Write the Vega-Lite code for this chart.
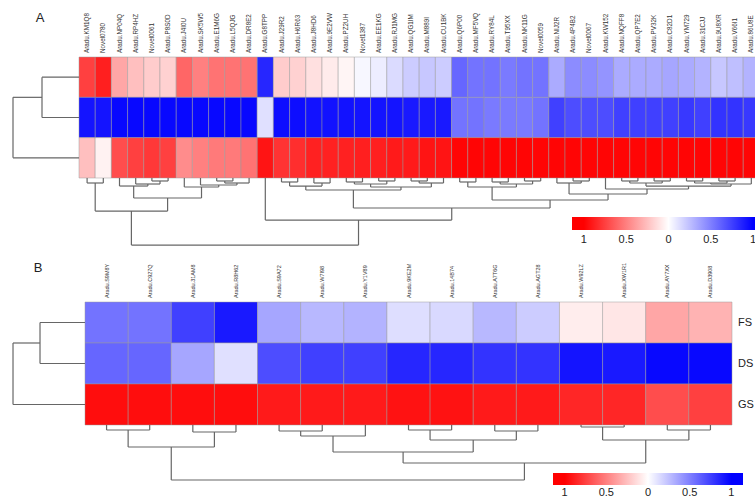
{
"$schema": "https://vega.github.io/schema/vega-lite/v6.json",
"padding": 0,
"background": "white",
"spacing": 0,
"bounds": "flush",
"config": {"view": {"stroke": null}, "font": "Liberation Sans", "axis": {"disable": true}},
"resolve": {"scale": {"color": "independent"}},
"datasets": {
"cellsA": [
{"gene":"Aradu.KM1Q8","cond":"FS","v":0.75},{"gene":"Aradu.KM1Q8","cond":"DS","v":-0.92},{"gene":"Aradu.KM1Q8","cond":"GS","v":0.25},
{"gene":"Novel0780","cond":"FS","v":0.88},{"gene":"Novel0780","cond":"DS","v":-0.92},{"gene":"Novel0780","cond":"GS","v":0.05},
{"gene":"Aradu.NP04Q","cond":"FS","v":0.35},{"gene":"Aradu.NP04Q","cond":"DS","v":-0.97},{"gene":"Aradu.NP04Q","cond":"GS","v":0.7},
{"gene":"Aradu.RP4HZ","cond":"FS","v":0.25},{"gene":"Aradu.RP4HZ","cond":"DS","v":-0.97},{"gene":"Aradu.RP4HZ","cond":"GS","v":0.75},
{"gene":"Novel0061","cond":"FS","v":0.2},{"gene":"Novel0061","cond":"DS","v":-0.97},{"gene":"Novel0061","cond":"GS","v":0.78},
{"gene":"Aradu.P8S0D","cond":"FS","v":0.18},{"gene":"Aradu.P8S0D","cond":"DS","v":-0.97},{"gene":"Aradu.P8S0D","cond":"GS","v":0.75},
{"gene":"Aradu.J4I0U","cond":"FS","v":0.6},{"gene":"Aradu.J4I0U","cond":"DS","v":-0.97},{"gene":"Aradu.J4I0U","cond":"GS","v":0.45},
{"gene":"Aradu.SK5W5","cond":"FS","v":0.5},{"gene":"Aradu.SK5W5","cond":"DS","v":-0.97},{"gene":"Aradu.SK5W5","cond":"GS","v":0.5},
{"gene":"Aradu.E1M6G","cond":"FS","v":0.55},{"gene":"Aradu.E1M6G","cond":"DS","v":-0.97},{"gene":"Aradu.E1M6G","cond":"GS","v":0.52},
{"gene":"Aradu.L5QJG","cond":"FS","v":0.55},{"gene":"Aradu.L5QJG","cond":"DS","v":-0.97},{"gene":"Aradu.L5QJG","cond":"GS","v":0.52},
{"gene":"Aradu.DR8E2","cond":"FS","v":0.55},{"gene":"Aradu.DR8E2","cond":"DS","v":-0.97},{"gene":"Aradu.DR8E2","cond":"GS","v":0.55},
{"gene":"Aradu.G8TPP","cond":"FS","v":-0.85},{"gene":"Aradu.G8TPP","cond":"DS","v":-0.12},{"gene":"Aradu.G8TPP","cond":"GS","v":0.92},
{"gene":"Aradu.J29R2","cond":"FS","v":0.2},{"gene":"Aradu.J29R2","cond":"DS","v":-0.95},{"gene":"Aradu.J29R2","cond":"GS","v":0.8},
{"gene":"Aradu.H6R63","cond":"FS","v":0.18},{"gene":"Aradu.H6R63","cond":"DS","v":-0.95},{"gene":"Aradu.H6R63","cond":"GS","v":0.82},
{"gene":"Aradu.J8HD6","cond":"FS","v":0.12},{"gene":"Aradu.J8HD6","cond":"DS","v":-0.93},{"gene":"Aradu.J8HD6","cond":"GS","v":0.87},
{"gene":"Aradu.9E2VW","cond":"FS","v":0.08},{"gene":"Aradu.9E2VW","cond":"DS","v":-0.93},{"gene":"Aradu.9E2VW","cond":"GS","v":0.87},
{"gene":"Aradu.PZ2UH","cond":"FS","v":0.04},{"gene":"Aradu.PZ2UH","cond":"DS","v":-0.93},{"gene":"Aradu.PZ2UH","cond":"GS","v":0.87},
{"gene":"Novel1387","cond":"FS","v":-0.03},{"gene":"Novel1387","cond":"DS","v":-0.92},{"gene":"Novel1387","cond":"GS","v":0.88},
{"gene":"Aradu.EE1KG","cond":"FS","v":-0.07},{"gene":"Aradu.EE1KG","cond":"DS","v":-0.92},{"gene":"Aradu.EE1KG","cond":"GS","v":0.88},
{"gene":"Aradu.RJ1MG","cond":"FS","v":-0.14},{"gene":"Aradu.RJ1MG","cond":"DS","v":-0.92},{"gene":"Aradu.RJ1MG","cond":"GS","v":0.9},
{"gene":"Aradu.QG1IM","cond":"FS","v":-0.2},{"gene":"Aradu.QG1IM","cond":"DS","v":-0.9},{"gene":"Aradu.QG1IM","cond":"GS","v":0.9},
{"gene":"Aradu.M889I","cond":"FS","v":-0.22},{"gene":"Aradu.M889I","cond":"DS","v":-0.9},{"gene":"Aradu.M889I","cond":"GS","v":0.92},
{"gene":"Aradu.CU1BK","cond":"FS","v":-0.2},{"gene":"Aradu.CU1BK","cond":"DS","v":-0.9},{"gene":"Aradu.CU1BK","cond":"GS","v":0.92},
{"gene":"Aradu.Q6P00","cond":"FS","v":-0.6},{"gene":"Aradu.Q6P00","cond":"DS","v":-0.55},{"gene":"Aradu.Q6P00","cond":"GS","v":0.98},
{"gene":"Aradu.MF5VQ","cond":"FS","v":-0.55},{"gene":"Aradu.MF5VQ","cond":"DS","v":-0.55},{"gene":"Aradu.MF5VQ","cond":"GS","v":0.98},
{"gene":"Aradu.RY84L","cond":"FS","v":-0.55},{"gene":"Aradu.RY84L","cond":"DS","v":-0.52},{"gene":"Aradu.RY84L","cond":"GS","v":0.98},
{"gene":"Aradu.T95XX","cond":"FS","v":-0.52},{"gene":"Aradu.T95XX","cond":"DS","v":-0.52},{"gene":"Aradu.T95XX","cond":"GS","v":0.98},
{"gene":"Aradu.NK11G","cond":"FS","v":-0.55},{"gene":"Aradu.NK11G","cond":"DS","v":-0.52},{"gene":"Aradu.NK11G","cond":"GS","v":0.98},
{"gene":"Novel0059","cond":"FS","v":-0.55},{"gene":"Novel0059","cond":"DS","v":-0.55},{"gene":"Novel0059","cond":"GS","v":0.98},
{"gene":"Aradu.NIJ2R","cond":"FS","v":-0.33},{"gene":"Aradu.NIJ2R","cond":"DS","v":-0.75},{"gene":"Aradu.NIJ2R","cond":"GS","v":0.98},
{"gene":"Aradu.4P4B2","cond":"FS","v":-0.45},{"gene":"Aradu.4P4B2","cond":"DS","v":-0.7},{"gene":"Aradu.4P4B2","cond":"GS","v":0.98},
{"gene":"Novel0067","cond":"FS","v":-0.45},{"gene":"Novel0067","cond":"DS","v":-0.7},{"gene":"Novel0067","cond":"GS","v":0.98},
{"gene":"Aradu.KW152","cond":"FS","v":-0.42},{"gene":"Aradu.KW152","cond":"DS","v":-0.7},{"gene":"Aradu.KW152","cond":"GS","v":0.98},
{"gene":"Aradu.NQFF8","cond":"FS","v":-0.33},{"gene":"Aradu.NQFF8","cond":"DS","v":-0.75},{"gene":"Aradu.NQFF8","cond":"GS","v":0.98},
{"gene":"Aradu.QP7E2","cond":"FS","v":-0.33},{"gene":"Aradu.QP7E2","cond":"DS","v":-0.75},{"gene":"Aradu.QP7E2","cond":"GS","v":0.98},
{"gene":"Aradu.PV32K","cond":"FS","v":-0.33},{"gene":"Aradu.PV32K","cond":"DS","v":-0.75},{"gene":"Aradu.PV32K","cond":"GS","v":0.98},
{"gene":"Aradu.C82D1","cond":"FS","v":-0.35},{"gene":"Aradu.C82D1","cond":"DS","v":-0.75},{"gene":"Aradu.C82D1","cond":"GS","v":0.98},
{"gene":"Aradu.YM729","cond":"FS","v":-0.33},{"gene":"Aradu.YM729","cond":"DS","v":-0.78},{"gene":"Aradu.YM729","cond":"GS","v":0.98},
{"gene":"Aradu.31CJJ","cond":"FS","v":-0.3},{"gene":"Aradu.31CJJ","cond":"DS","v":-0.75},{"gene":"Aradu.31CJJ","cond":"GS","v":0.98},
{"gene":"Aradu.9U8XR","cond":"FS","v":-0.22},{"gene":"Aradu.9U8XR","cond":"DS","v":-0.8},{"gene":"Aradu.9U8XR","cond":"GS","v":0.98},
{"gene":"Aradu.V66I1","cond":"FS","v":-0.25},{"gene":"Aradu.V66I1","cond":"DS","v":-0.8},{"gene":"Aradu.V66I1","cond":"GS","v":0.98},
{"gene":"Aradu.86U8E","cond":"FS","v":-0.3},{"gene":"Aradu.86U8E","cond":"DS","v":-0.78},{"gene":"Aradu.86U8E","cond":"GS","v":0.98}
],
"mergesA": [
{"xa":0.5,"xb":1.5,"ha":3,"hb":3,"h":3.124},
{"xa":4.5,"xb":5.5,"ha":3,"hb":3,"h":3.074},
{"xa":3.5,"xb":5.0,"ha":3,"hb":3.074,"h":3.149},
{"xa":2.5,"xb":4.25,"ha":3,"hb":3.149,"h":3.199},
{"xa":8.5,"xb":9.5,"ha":3,"hb":3,"h":3.074},
{"xa":9.0,"xb":10.5,"ha":3.074,"hb":3,"h":3.124},
{"xa":7.5,"xb":9.75,"ha":3,"hb":3.124,"h":3.174},
{"xa":6.5,"xb":8.625,"ha":3,"hb":3.174,"h":3.223},
{"xa":3.375,"xb":7.5625,"ha":3.199,"hb":3.223,"h":3.496},
{"xa":1.0,"xb":5.469,"ha":3.124,"hb":3.496,"h":3.819},
{"xa":12.5,"xb":13.5,"ha":3,"hb":3,"h":3.099},
{"xa":14.5,"xb":15.5,"ha":3,"hb":3,"h":3.124},
{"xa":13,"xb":15,"ha":3.099,"hb":3.124,"h":3.199},
{"xa":16.5,"xb":17.5,"ha":3,"hb":3,"h":3.099},
{"xa":18.5,"xb":19.5,"ha":3,"hb":3,"h":3.074},
{"xa":17,"xb":19,"ha":3.099,"hb":3.074,"h":3.149},
{"xa":20.5,"xb":21.5,"ha":3,"hb":3,"h":3.074},
{"xa":21,"xb":22.5,"ha":3.074,"hb":3,"h":3.124},
{"xa":18,"xb":21.75,"ha":3.149,"hb":3.124,"h":3.223},
{"xa":14,"xb":19.875,"ha":3.199,"hb":3.223,"h":3.298},
{"xa":23.5,"xb":24.5,"ha":3,"hb":3,"h":3.099},
{"xa":25.5,"xb":26.5,"ha":3,"hb":3,"h":3.099},
{"xa":27.5,"xb":28.5,"ha":3,"hb":3,"h":3.074},
{"xa":26,"xb":28,"ha":3.099,"hb":3.074,"h":3.149},
{"xa":24,"xb":27,"ha":3.099,"hb":3.149,"h":3.223},
{"xa":30.5,"xb":31.5,"ha":3,"hb":3,"h":3.074},
{"xa":29.5,"xb":31,"ha":3,"hb":3.074,"h":3.124},
{"xa":33.5,"xb":34.5,"ha":3,"hb":3,"h":3.074},
{"xa":35.5,"xb":36.5,"ha":3,"hb":3,"h":3.074},
{"xa":34,"xb":36,"ha":3.074,"hb":3.074,"h":3.124},
{"xa":37.5,"xb":38.5,"ha":3,"hb":3,"h":3.074},
{"xa":39.5,"xb":40.5,"ha":3,"hb":3,"h":3.074},
{"xa":38,"xb":40,"ha":3.074,"hb":3.074,"h":3.124},
{"xa":39,"xb":41.5,"ha":3.124,"hb":3,"h":3.149},
{"xa":35,"xb":40.25,"ha":3.124,"hb":3.149,"h":3.199},
{"xa":32.5,"xb":37.625,"ha":3,"hb":3.199,"h":3.273},
{"xa":30.25,"xb":35.0625,"ha":3.124,"hb":3.273,"h":3.397},
{"xa":25.5,"xb":32.656,"ha":3.223,"hb":3.397,"h":3.546},
{"xa":16.9375,"xb":29.078,"ha":3.298,"hb":3.546,"h":3.744},
{"xa":11.5,"xb":23.008,"ha":3,"hb":3.744,"h":4.042},
{"xa":3.234,"xb":17.254,"ha":3.819,"hb":4.042,"h":4.663}
],
"rowsA": [
{"ya":0.5,"yb":1.5,"da":0,"db":0,"d":-2.284},
{"ya":1.0,"yb":2.5,"da":-2.284,"db":0,"d":-4.074}
],
"cellsB": [
{"gene":"Aradu.S9M8Y","cond":"FS","v":-0.55},{"gene":"Aradu.S9M8Y","cond":"DS","v":-0.6},{"gene":"Aradu.S9M8Y","cond":"GS","v":0.95},
{"gene":"Aradu.C927Q","cond":"FS","v":-0.55},{"gene":"Aradu.C927Q","cond":"DS","v":-0.6},{"gene":"Aradu.C927Q","cond":"GS","v":0.95},
{"gene":"Aradu.31AM8","cond":"FS","v":-0.75},{"gene":"Aradu.31AM8","cond":"DS","v":-0.35},{"gene":"Aradu.31AM8","cond":"GS","v":0.95},
{"gene":"Aradu.R8H62","cond":"FS","v":-0.9},{"gene":"Aradu.R8H62","cond":"DS","v":-0.12},{"gene":"Aradu.R8H62","cond":"GS","v":0.95},
{"gene":"Aradu.S9A72","cond":"FS","v":-0.35},{"gene":"Aradu.S9A72","cond":"DS","v":-0.7},{"gene":"Aradu.S9A72","cond":"GS","v":0.9},
{"gene":"Aradu.W7I98","cond":"FS","v":-0.28},{"gene":"Aradu.W7I98","cond":"DS","v":-0.75},{"gene":"Aradu.W7I98","cond":"GS","v":0.9},
{"gene":"Aradu.Y1V89","cond":"FS","v":-0.3},{"gene":"Aradu.Y1V89","cond":"DS","v":-0.75},{"gene":"Aradu.Y1V89","cond":"GS","v":0.9},
{"gene":"Aradu.9KE2M","cond":"FS","v":-0.13},{"gene":"Aradu.9KE2M","cond":"DS","v":-0.85},{"gene":"Aradu.9KE2M","cond":"GS","v":0.93},
{"gene":"Aradu.14B74","cond":"FS","v":-0.15},{"gene":"Aradu.14B74","cond":"DS","v":-0.85},{"gene":"Aradu.14B74","cond":"GS","v":0.93},
{"gene":"Aradu.A7T6G","cond":"FS","v":-0.28},{"gene":"Aradu.A7T6G","cond":"DS","v":-0.8},{"gene":"Aradu.A7T6G","cond":"GS","v":0.9},
{"gene":"Aradu.AGT28","cond":"FS","v":-0.2},{"gene":"Aradu.AGT28","cond":"DS","v":-0.8},{"gene":"Aradu.AGT28","cond":"GS","v":0.9},
{"gene":"Aradu.W92LZ","cond":"FS","v":0.07},{"gene":"Aradu.W92LZ","cond":"DS","v":-0.92},{"gene":"Aradu.W92LZ","cond":"GS","v":0.85},
{"gene":"Aradu.XW1R1","cond":"FS","v":0.1},{"gene":"Aradu.XW1R1","cond":"DS","v":-0.9},{"gene":"Aradu.XW1R1","cond":"GS","v":0.85},
{"gene":"Aradu.AY7XX","cond":"FS","v":0.35},{"gene":"Aradu.AY7XX","cond":"DS","v":-0.97},{"gene":"Aradu.AY7XX","cond":"GS","v":0.7},
{"gene":"Aradu.D3908","cond":"FS","v":0.3},{"gene":"Aradu.D3908","cond":"DS","v":-0.97},{"gene":"Aradu.D3908","cond":"GS","v":0.75}
],
"mergesB": [
{"xa":0.5,"xb":1.5,"ha":3,"hb":3,"h":3.122},
{"xa":2.5,"xb":3.5,"ha":3,"hb":3,"h":3.171},
{"xa":1.0,"xb":3.0,"ha":3.122,"hb":3.171,"h":3.537},
{"xa":4.5,"xb":5.5,"ha":3,"hb":3,"h":3.146},
{"xa":5.0,"xb":6.5,"ha":3.146,"hb":3,"h":3.268},
{"xa":7.5,"xb":8.5,"ha":3,"hb":3,"h":3.122},
{"xa":9.5,"xb":10.5,"ha":3,"hb":3,"h":3.146},
{"xa":8.0,"xb":10.0,"ha":3.122,"hb":3.146,"h":3.366},
{"xa":5.75,"xb":9.0,"ha":3.268,"hb":3.366,"h":3.659},
{"xa":11.5,"xb":12.5,"ha":3,"hb":3,"h":3.049},
{"xa":13.5,"xb":14.5,"ha":3,"hb":3,"h":3.122},
{"xa":12.0,"xb":14.0,"ha":3.049,"hb":3.122,"h":3.366},
{"xa":7.375,"xb":13.0,"ha":3.659,"hb":3.366,"h":3.927},
{"xa":2.0,"xb":10.1875,"ha":3.537,"hb":3.927,"h":4.341}
],
"rowsB": [
{"ya":0.5,"yb":1.5,"da":0,"db":0,"d":-1.043},
{"ya":1.0,"yb":2.5,"da":-1.043,"db":0,"d":-1.669}
]
},
"vconcat": [
{
"width": 755, "height": 255,
"resolve": {"scale": {"x": "independent", "y": "independent"}},
"layer": [
{
"layer": [
{"data": {"name": "cellsA"},
 "mark": {"type": "rect", "stroke": "#9a9a9a", "strokeWidth": 0.6, "strokeOpacity": 0.8},
 "encoding": {
  "x": {"field": "gene", "type": "nominal", "sort": null, "axis": null, "scale": {"range": [79, 759.4], "paddingInner": 0, "paddingOuter": 0}},
  "y": {"field": "cond", "type": "nominal", "axis": null, "scale": {"domain": ["FS", "DS", "GS"], "range": [57, 178], "paddingInner": 0, "paddingOuter": 0}},
  "color": {"field": "v", "type": "quantitative",
   "scale": {"domain": [1.14, 1, 0, -1, -1.14], "range": ["#ff0000", "#ff0000", "#ffffff", "#0000ff", "#0000ff"], "interpolate": "rgb"},
   "legend": {"orient": "none", "legendX": 572, "legendY": 217, "direction": "horizontal", "gradientLength": 193, "gradientThickness": 13, "title": null, "values": [1, 0.5, 0, -0.5, -1], "labelExpr": "'' + abs(datum.value)", "labelFontSize": 11, "labelColor": "#222222", "labelOffset": 4, "gradientStrokeWidth": 0, "padding": 0}}
 }},
{"data": {"name": "cellsA"},
 "transform": [{"filter": "datum.cond === 'FS'"}],
 "mark": {"type": "text", "angle": 270, "align": "left", "baseline": "middle", "dx": 4, "fontSize": 6.3, "color": "#333333"},
 "encoding": {
  "x": {"field": "gene", "type": "nominal", "sort": null},
  "y": {"datum": "FS", "type": "nominal", "bandPosition": 0},
  "text": {"field": "gene"}
 }}
]
},
{
"layer": [
{"data": {"name": "mergesA"}, "mark": {"type": "rule", "color": "#666666", "strokeWidth": 1.2},
 "encoding": {
  "x": {"field": "xa", "type": "quantitative", "axis": null, "scale": {"domain": [0, 42], "range": [79, 759.4], "nice": false, "zero": false}},
  "x2": {"field": "xb"},
  "y": {"field": "h", "type": "quantitative", "axis": null, "scale": {"domain": [0, 3], "range": [57, 178], "nice": false, "zero": false}}
 }},
{"data": {"name": "mergesA"}, "mark": {"type": "rule", "color": "#666666", "strokeWidth": 1.2},
 "encoding": {"x": {"field": "xa", "type": "quantitative"}, "y": {"field": "ha", "type": "quantitative"}, "y2": {"field": "h"}}},
{"data": {"name": "mergesA"}, "mark": {"type": "rule", "color": "#666666", "strokeWidth": 1.2},
 "encoding": {"x": {"field": "xb", "type": "quantitative"}, "y": {"field": "hb", "type": "quantitative"}, "y2": {"field": "h"}}},
{"data": {"name": "rowsA"}, "mark": {"type": "rule", "color": "#666666", "strokeWidth": 1.2},
 "encoding": {"x": {"field": "d", "type": "quantitative"}, "y": {"field": "ya", "type": "quantitative"}, "y2": {"field": "yb"}}},
{"data": {"name": "rowsA"}, "mark": {"type": "rule", "color": "#666666", "strokeWidth": 1.2},
 "encoding": {"x": {"field": "da", "type": "quantitative"}, "x2": {"field": "d"}, "y": {"field": "ya", "type": "quantitative"}}},
{"data": {"name": "rowsA"}, "mark": {"type": "rule", "color": "#666666", "strokeWidth": 1.2},
 "encoding": {"x": {"field": "db", "type": "quantitative"}, "x2": {"field": "d"}, "y": {"field": "yb", "type": "quantitative"}}},
{"data": {"values": [{"label": "A"}]}, "mark": {"type": "text", "fontSize": 13, "color": "#222222", "align": "center", "baseline": "middle"},
 "encoding": {"x": {"datum": -2.407, "type": "quantitative"}, "y": {"datum": -0.968, "type": "quantitative"}, "text": {"field": "label"}}}
]
}
]
},
{
"width": 755, "height": 245,
"resolve": {"scale": {"x": "independent", "y": "independent"}},
"layer": [
{
"layer": [
{"data": {"name": "cellsB"},
 "mark": {"type": "rect", "stroke": "#9a9a9a", "strokeWidth": 0.6, "strokeOpacity": 0.8},
 "encoding": {
  "x": {"field": "gene", "type": "nominal", "sort": null, "axis": null, "scale": {"range": [85, 732], "paddingInner": 0, "paddingOuter": 0}},
  "y": {"field": "cond", "type": "nominal", "axis": null, "scale": {"domain": ["FS", "DS", "GS"], "range": [47, 170], "paddingInner": 0, "paddingOuter": 0}},
  "color": {"field": "v", "type": "quantitative",
   "scale": {"domain": [1.14, 1, 0, -1, -1.14], "range": ["#ff0000", "#ff0000", "#ffffff", "#0000ff", "#0000ff"], "interpolate": "rgb"},
   "legend": {"orient": "none", "legendX": 553, "legendY": 218, "direction": "horizontal", "gradientLength": 190, "gradientThickness": 12, "title": null, "values": [1, 0.5, 0, -0.5, -1], "labelExpr": "'' + abs(datum.value)", "labelFontSize": 11, "labelColor": "#222222", "labelOffset": 2, "gradientStrokeWidth": 0, "padding": 0}}
 }},
{"data": {"name": "cellsB"},
 "transform": [{"filter": "datum.cond === 'FS'"}],
 "mark": {"type": "text", "angle": 270, "align": "left", "baseline": "middle", "dx": 4, "fontSize": 5.5, "color": "#333333"},
 "encoding": {
  "x": {"field": "gene", "type": "nominal", "sort": null},
  "y": {"datum": "FS", "type": "nominal", "bandPosition": 0},
  "text": {"field": "gene"}
 }},
{"data": {"name": "cellsB"},
 "transform": [{"filter": "datum.gene === 'Aradu.D3908'"}],
 "mark": {"type": "text", "align": "left", "baseline": "middle", "dx": 6, "fontSize": 11, "color": "#222222"},
 "encoding": {
  "x": {"field": "gene", "type": "nominal", "sort": null, "bandPosition": 1},
  "y": {"field": "cond", "type": "nominal"},
  "text": {"field": "cond"}
 }}
]
},
{
"layer": [
{"data": {"name": "mergesB"}, "mark": {"type": "rule", "color": "#666666", "strokeWidth": 1.2},
 "encoding": {
  "x": {"field": "xa", "type": "quantitative", "axis": null, "scale": {"domain": [0, 15], "range": [85, 732], "nice": false, "zero": false}},
  "x2": {"field": "xb"},
  "y": {"field": "h", "type": "quantitative", "axis": null, "scale": {"domain": [0, 3], "range": [47, 170], "nice": false, "zero": false}}
 }},
{"data": {"name": "mergesB"}, "mark": {"type": "rule", "color": "#666666", "strokeWidth": 1.2},
 "encoding": {"x": {"field": "xa", "type": "quantitative"}, "y": {"field": "ha", "type": "quantitative"}, "y2": {"field": "h"}}},
{"data": {"name": "mergesB"}, "mark": {"type": "rule", "color": "#666666", "strokeWidth": 1.2},
 "encoding": {"x": {"field": "xb", "type": "quantitative"}, "y": {"field": "hb", "type": "quantitative"}, "y2": {"field": "h"}}},
{"data": {"name": "rowsB"}, "mark": {"type": "rule", "color": "#666666", "strokeWidth": 1.2},
 "encoding": {"x": {"field": "d", "type": "quantitative"}, "y": {"field": "ya", "type": "quantitative"}, "y2": {"field": "yb"}}},
{"data": {"name": "rowsB"}, "mark": {"type": "rule", "color": "#666666", "strokeWidth": 1.2},
 "encoding": {"x": {"field": "da", "type": "quantitative"}, "x2": {"field": "d"}, "y": {"field": "ya", "type": "quantitative"}}},
{"data": {"name": "rowsB"}, "mark": {"type": "rule", "color": "#666666", "strokeWidth": 1.2},
 "encoding": {"x": {"field": "db", "type": "quantitative"}, "x2": {"field": "d"}, "y": {"field": "yb", "type": "quantitative"}}},
{"data": {"values": [{"label": "B"}]}, "mark": {"type": "text", "fontSize": 13, "color": "#222222", "align": "center", "baseline": "middle"},
 "encoding": {"x": {"datum": -1.09, "type": "quantitative"}, "y": {"datum": -0.83, "type": "quantitative"}, "text": {"field": "label"}}}
]
}
]
}
]
}
